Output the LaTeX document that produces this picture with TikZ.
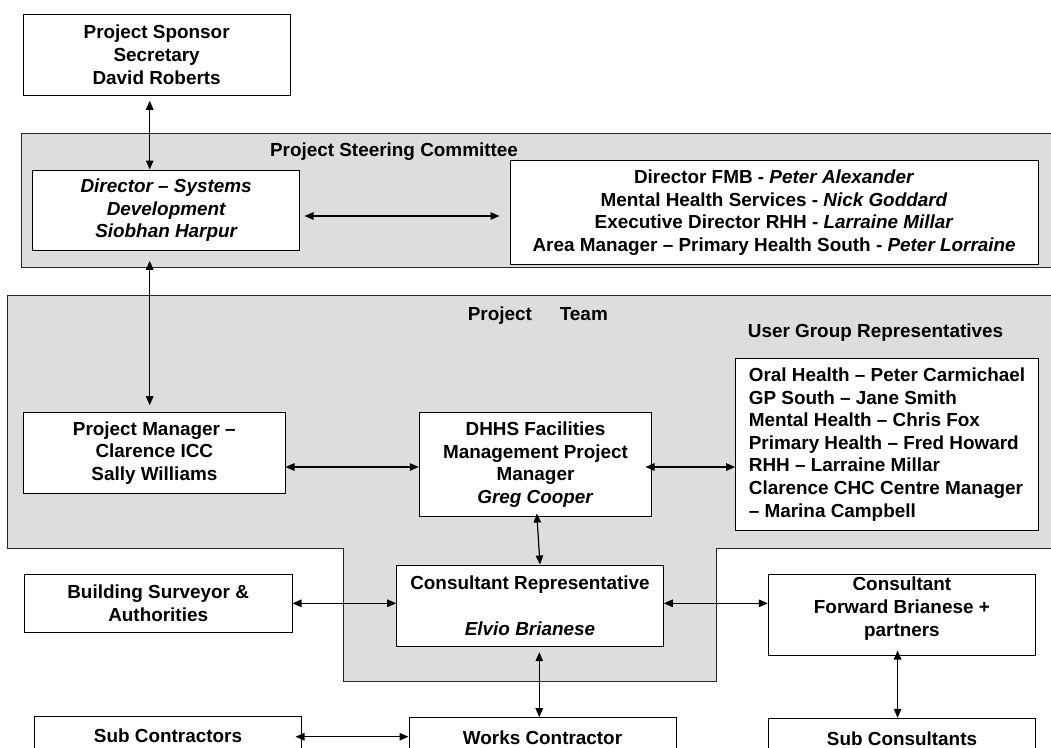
\documentclass[tikz,border=0pt]{standalone}
\usepackage{fontspec}
\setmainfont{Liberation Sans}
\usetikzlibrary{arrows.meta}
\definecolor{panelgrey}{RGB}{221,221,221}
\newcommand\bfnt{\fontsize{18.9pt}{22.6pt}\selectfont\bfseries}
\begin{document}
\begin{tikzpicture}[x=1pt,y=-1pt,
  box/.style={draw=black, line width=1pt, fill=white, inner sep=0pt, align=center, font=\bfnt},
  lbl/.style={inner sep=0pt, font=\bfnt},
  arr/.style={{Triangle[length=9pt,width=7.5pt]}-{Triangle[length=9pt,width=7.5pt]}, line width=1.2pt},
  greyarea/.style={fill=panelgrey, draw=black!85, line width=1pt}]
\useasboundingbox (0,0) rectangle (1051,747);

% grey areas
\path[greyarea] (21.6,133.3) rectangle (1060,267.7);
\path[greyarea] (7.4,295.5) -- (1060,295.5) -- (1060,548) -- (716,548) -- (716,681.7)
  -- (343,681.7) -- (343,548.3) -- (7.4,548.3) -- cycle;

% titles
\node[lbl, anchor=base] (steertitle) at (394,156.7) {Project Steering Committee};
\node[lbl, anchor=base] (teamtitle) at (537.8,320) {Project\hspace{22.7pt} Team};
\node[lbl, anchor=base west] (userstitle) at (747.7,337.7) {User Group Representatives};

% boxes
\node[box, minimum width=267.3pt, minimum height=81.3pt] (sponsor) at (156.65,54.65)
  {Project Sponsor\\Secretary\\David Roberts};
\node[box, minimum width=266.7pt, minimum height=80.3pt, font=\bfnt\itshape] (director) at (166.15,210.15)
  {Director -- Systems\\Development\\Siobhan Harpur};
\node[box, minimum width=528.3pt, minimum height=103.6pt] (steer) at (774.15,212.5)
  {Director FMB - \textit{Peter Alexander}\\
   Mental Health Services - \textit{Nick Goddard}\\
   Executive Director RHH - \textit{Larraine Millar}\\
   Area Manager -- Primary Health South - \textit{Peter Lorraine}};
\node[box, minimum width=261.3pt, minimum height=80.6pt] (pm) at (154.35,453)
  {Project Manager --\\Clarence ICC\\Sally Williams};
\node[box, minimum width=232.4pt, minimum height=104.4pt] (dhhs) at (535.5,464.5)
  {DHHS Facilities\\Management Project\\Manager\\\textit{Greg Cooper}};
\node[box, align=left, minimum width=302.6pt, minimum height=172.4pt] (users) at (887,444.5)
  {Oral Health -- Peter Carmichael\\
   GP South -- Jane Smith\\
   Mental Health -- Chris Fox\\
   Primary Health -- Fred Howard\\
   RHH -- Larraine Millar\\
   Clarence CHC Centre Manager\\
   -- Marina Campbell};
\node[box, minimum width=267.7pt, minimum height=58.4pt] (bsurv) at (158.15,603.5)
  {Building Surveyor \&\\Authorities};
\node[box, minimum width=266.6pt, minimum height=81.3pt] (crep) at (530,605.65)
  {Consultant Representative\\\mbox{}\\\textit{Elvio Brianese}};
\node[box, minimum width=267.2pt, minimum height=81.4pt] (cons) at (901.9,615)
  {Consultant\\Forward Brianese +\\partners\\[-6pt]\mbox{}};
\node[box, minimum width=267.4pt, minimum height=40pt] (subc) at (168,736)
  {Sub Contractors};
\node[box, minimum width=267pt, minimum height=40pt] (works) at (542.5,737.7)
  {Works Contractor};
\node[box, minimum width=267pt, minimum height=40pt] (subcons) at (902,738.3)
  {Sub Consultants};

% guide coordinates
\coordinate (xa) at (149.7,0);
\coordinate (yb) at (0,216);
\coordinate (yd) at (0,467);
\coordinate (xf1) at (537,0);
\coordinate (xf2) at (540,0);
\coordinate (yg) at (0,603.3);
\coordinate (xi) at (539.3,0);
\coordinate (yj) at (0,736.7);
\coordinate (xk) at (897.6,0);

% connectors
\draw[arr, shorten <=5pt] (sponsor.south -| xa) -- (director.north -| xa);
\draw[arr, shorten <=4.5pt, shorten >=10pt] (director.east |- yb) -- (steer.west |- yb);
\draw[arr, shorten <=10pt, shorten >=7pt] (director.south -| xa) -- (pm.north -| xa);
\draw[arr] (pm.east |- yd) -- (dhhs.west |- yd);
\draw[arr, shorten <=-6.7pt] (dhhs.east |- yd) -- (users.west |- yd);
\draw[arr, shorten <=-3.7pt] (dhhs.south -| xf1) -- (crep.north -| xf2);
\draw[arr] (bsurv.east |- yg) -- (crep.west |- yg);
\draw[arr] (crep.east |- yg) -- (cons.west |- yg);
\draw[arr, shorten <=5.4pt] (crep.south -| xi) -- (works.north -| xi);
\draw[arr, shorten <=-6.7pt] (subc.east |- yj) -- (works.west |- yj);
\draw[arr, shorten <=-5.7pt] (cons.south -| xk) -- (subcons.north -| xk);
\end{tikzpicture}
\end{document}
